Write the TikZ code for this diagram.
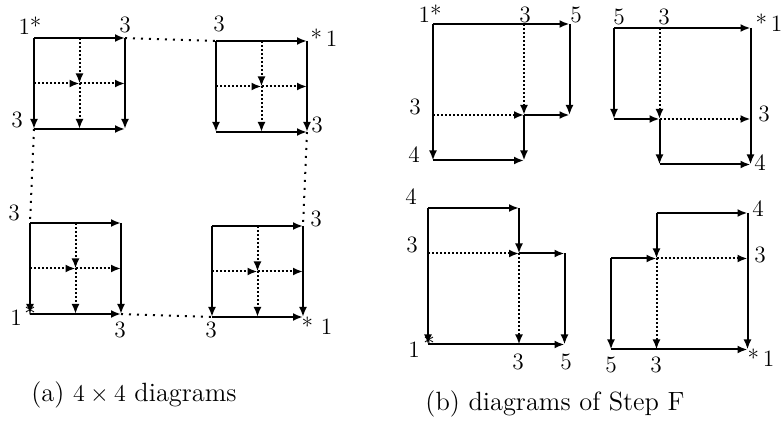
\documentclass[tikz,border=0pt]{standalone}
\usepackage{tikz}
\usetikzlibrary{arrows.meta}

\begin{document}
\begin{tikzpicture}[
  x=0.5pt,y=-0.5pt,
  >={Latex[length=5pt,width=4pt]},
  arr/.style={draw,->,line width=1pt},
  darr/.style={draw,->,line width=1pt,densely dotted},
  link/.style={draw,line width=1pt,dash pattern=on 1pt off 3pt},
  lab/.style={anchor=base,inner sep=0pt,font=\fontsize{11.7}{14}\selectfont},
  captext/.style={anchor=base,inner sep=0pt,font=\fontsize{13.2}{16}\selectfont}
]
\useasboundingbox (0,0) rectangle (783,427);

% grid points of the eight diagrams
\foreach \n/\ox/\oy in {a1/34/38, a2/216/41, a3/30/223, a4/212/226,
                        b1/433/24, b2/614/28, b3/428/208, b4/611/213}
  \foreach \i in {0,...,3}
    \foreach \j in {0,...,3}
      \coordinate (\n-\i\j) at ({\ox+45.5*\i},{\oy+45.5*\j});

% (a) the four squares
\foreach \n in {a1,a2,a3,a4}{
  \path[arr] (\n-00) -- (\n-20);
  \path[arr] (\n-00) -- (\n-02);
  \path[arr] (\n-02) -- (\n-22);
  \path[arr] (\n-20) -- (\n-22);
  \path[darr] (\n-10) -- (\n-11);
  \path[darr] (\n-11) -- (\n-12);
  \path[darr] (\n-01) -- (\n-11);
  \path[darr] (\n-11) -- (\n-21);
}
\path[link] (a1-20) -- (a2-00);
\path[link] (a1-02) -- (a3-00);
\path[link] (a2-22) -- (a4-20);
\path[link] (a3-22) -- (a4-02);

\node[lab] (a1s) at (30,35) {1*};
\node[lab] (a1r) at (125,33) {3};
\node[lab] (a1b) at (17,128) {3};
\node[lab] (a2l) at (219,32) {3};
\node[lab] (a2s) at (324,47) {*\,1};
\node[lab] (a2b) at (317,133) {3};
\node[lab] (a3t) at (14,221) {3};
\node[lab] (a3o) at (16,326) {1};
\node[lab] (a3s) at (30,323) {*};
\node[lab] (a3b) at (120,338) {3};
\node[lab] (a4t) at (316,227) {3};
\node[lab] (a4b) at (211,338) {3};
\node[lab] (a4s) at (317,335) {* 1};

% (b) Step F
\path[arr] (b1-00) -- (b1-30);
\path[arr] (b1-30) -- (b1-32);
\path[arr] (b1-00) -- (b1-03);
\path[arr] (b1-03) -- (b1-23);
\path[arr] (b1-22) -- (b1-32);
\path[arr] (b1-22) -- (b1-23);
\path[darr] (b1-20) -- (b1-22);
\path[darr] (b1-02) -- (b1-22);

\path[arr] (b2-00) -- (b2-30);
\path[arr] (b2-00) -- (b2-02);
\path[arr] (b2-02) -- (b2-12);
\path[arr] (b2-12) -- (b2-13);
\path[arr] (b2-13) -- (b2-33);
\path[arr] (b2-30) -- (b2-33);
\path[darr] (b2-10) -- (b2-12);
\path[darr] (b2-12) -- (b2-32);

\path[arr] (b3-00) -- (b3-20);
\path[arr] (b3-20) -- (b3-21);
\path[arr] (b3-21) -- (b3-31);
\path[arr] (b3-31) -- (b3-33);
\path[arr] (b3-00) -- (b3-03);
\path[arr] (b3-03) -- (b3-33);
\path[darr] (b3-01) -- (b3-21);
\path[darr] (b3-21) -- (b3-23);

\path[arr] (b4-10) -- (b4-30);
\path[arr] (b4-10) -- (b4-11);
\path[arr] (b4-01) -- (b4-11);
\path[arr] (b4-01) -- (b4-03);
\path[arr] (b4-03) -- (b4-33);
\path[arr] (b4-30) -- (b4-33);
\path[darr] (b4-11) -- (b4-31);
\path[darr] (b4-11) -- (b4-13);

\node[lab] (b1s) at (430,23) {1*};
\node[lab] (b1m) at (525,23) {3};
\node[lab] (b1r) at (576,23) {5};
\node[lab] (b1l) at (415,115) {3};
\node[lab] (b1d) at (414,163) {4};

\node[lab] (b2l) at (619,25) {5};
\node[lab] (b2m) at (664,25) {3};
\node[lab] (b2s) at (769,32) {*\,1};
\node[lab] (b2r) at (764,122) {3};
\node[lab] (b2d) at (760,171) {4};

\node[lab] (b3t) at (411,205) {4};
\node[lab] (b3l) at (412,253) {3};
\node[lab] (b3o) at (414,358) {1};
\node[lab] (b3s) at (429,353) {*};
\node[lab] (b3m) at (518,370) {3};
\node[lab] (b3r) at (566,370) {5};

\node[lab] (b4t) at (758,217) {4};
\node[lab] (b4r) at (760,263) {3};
\node[lab] (b4l) at (611,373) {5};
\node[lab] (b4m) at (656,373) {3};
\node[lab] (b4s) at (761,367) {*\,1};

\node[captext] (capa) at (134,402) {(a) $4\times4$ diagrams};
\node[captext] (capb) at (555,411) {(b) diagrams of Step F};
\end{tikzpicture}
\end{document}
